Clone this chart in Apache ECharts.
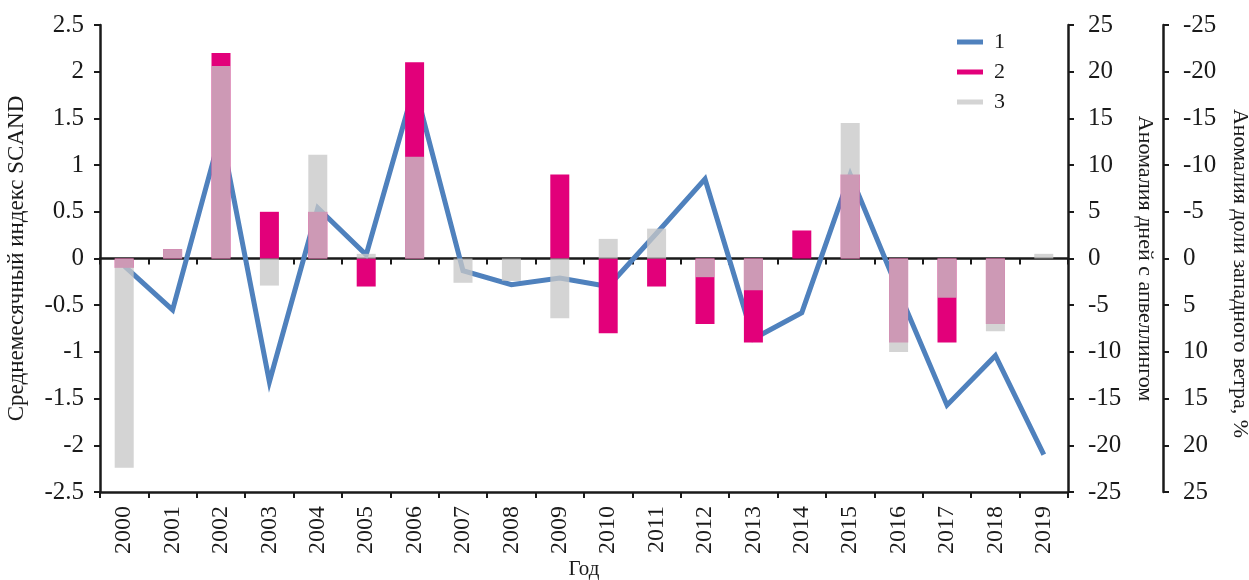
<!DOCTYPE html>
<html>
<head>
<meta charset="utf-8">
<script src="https://cdn.jsdelivr.net/npm/echarts@6/dist/echarts.min.js"></script>
<style>
  html, body { margin: 0; padding: 0; background: #fff; }
  #chart { width: 1249px; height: 580px; }
</style>
</head>
<body>
<div id="chart"></div>
<script>
// годы
const years = ['2000','2001','2002','2003','2004','2005','2006','2007','2008','2009',
               '2010','2011','2012','2013','2014','2015','2016','2017','2018','2019'];
// 1 - индекс SCAND
const scand = [-0.08, -0.55, 1.35, -1.32, 0.54, 0.04, 1.85, -0.13, -0.28, -0.21,
               -0.3, 0.27, 0.85, -0.86, -0.58, 0.9, -0.35, -1.57, -1.04, -2.1];
// 2 - аномалия дней с апвеллингом
const upwelling = [-1, 1, 22, 5, 5, -3, 21, 0, 0, 9,
                   -8, -3, -7, -9, 3, 9, -9, -9, -7, 0];
// 3 - аномалия доли западного ветра, %
const westWind = [22.4, -1, -20.6, 2.9, -11.1, -0.5, -10.9, 2.6, 2.4, 6.4,
                  -2.1, -3.2, 2.0, 3.4, 0, -14.5, 10, 4.2, 7.8, -0.5];

const FONT = 'Liberation Serif';
const INK = '#1a1a1a';

const chart = echarts.init(document.getElementById('chart'));

// общие настройки оси
function axisLine() {
	return { show: true, onZero: false, lineStyle: { color: INK, width: 2.5 } };
}
function axisTick(inside) {
	return { show: true, inside: !!inside, length: 6, lineStyle: { color: INK, width: 2 } };
}
function tickLabel(size) {
	return { color: INK, fontFamily: FONT, fontSize: size };
}

const option = {
	animation: false,
	backgroundColor: '#fff',
	grid: { left: 100, right: 181, top: 25, bottom: 88, containLabel: false, outerBoundsMode: 'none' },
	legend: {
		orient: 'vertical',
		left: 952,
		top: 26,
		itemWidth: 26,
		itemHeight: 5,
		itemGap: 8,
		icon: 'rect',
		textStyle: { color: INK, fontFamily: FONT, fontSize: 22, padding: [0, 0, 0, 6] },
		data: ['1', '2', '3']
	},
	xAxis: [
		{
			type: 'category',
			data: years,
			position: 'bottom',
			axisLine: axisLine(),
			axisTick: axisTick(false),
			axisLabel: Object.assign(tickLabel(24), { rotate: 90, margin: 14, interval: 0 }),
			splitLine: { show: false },
			name: 'Год',
			nameLocation: 'middle',
			nameGap: 67,
			nameMoveOverlap: false,
			nameTextStyle: { color: INK, fontFamily: FONT, fontSize: 21 }
		},
		{
			// линия нуля
			type: 'category',
			data: years,
			position: 'top',
			axisLine: { show: true, onZero: true, onZeroAxisIndex: 0, lineStyle: { color: INK, width: 2.5 } },
			axisTick: axisTick(true),
			axisLabel: { show: false },
			splitLine: { show: false }
		}
	],
	yAxis: [
		{
			type: 'value',
			min: -2.5, max: 2.5, interval: 0.5,
			position: 'left',
			axisLine: axisLine(),
			axisTick: axisTick(false),
			axisLabel: Object.assign(tickLabel(25), { margin: 16 }),
			splitLine: { show: false },
			name: 'Среднемесячный индекс SCAND',
			nameLocation: 'middle',
			nameRotate: 90,
			nameGap: 72,
			nameTextStyle: { color: INK, fontFamily: FONT, fontSize: 23 }
		},
		{
			type: 'value',
			min: -25, max: 25, interval: 5,
			position: 'right',
			axisLine: axisLine(),
			axisTick: axisTick(false),
			axisLabel: Object.assign(tickLabel(25), { margin: 20 }),
			splitLine: { show: false },
			name: 'Аномалия дней с апвеллингом',
			nameLocation: 'middle',
			nameRotate: -90,
			nameGap: 66,
			nameTextStyle: { color: INK, fontFamily: FONT, fontSize: 22 }
		},
		{
			type: 'value',
			min: -25, max: 25, interval: 5,
			inverse: true,
			position: 'right',
			offset: 95,
			axisLine: axisLine(),
			axisTick: axisTick(false),
			axisLabel: Object.assign(tickLabel(25), { margin: 20 }),
			splitLine: { show: false },
			name: 'Аномалия доли западного ветра, %',
			nameLocation: 'middle',
			nameRotate: -90,
			nameGap: 66,
			nameTextStyle: { color: INK, fontFamily: FONT, fontSize: 22, padding: [0, 0, 0, 30] }
		}
	],
	series: [
		{
			name: '1',
			type: 'line',
			xAxisIndex: 0,
			yAxisIndex: 0,
			data: scand,
			showSymbol: false,
			z: 1,
			color: '#4f81bd',
			lineStyle: { color: '#4f81bd', width: 5, join: 'miter' }
		},
		{
			name: '2',
			type: 'bar',
			xAxisIndex: 0,
			yAxisIndex: 1,
			data: upwelling,
			barWidth: 19,
			z: 2,
			itemStyle: { color: '#e2007a' }
		},
		{
			name: '3',
			type: 'bar',
			xAxisIndex: 0,
			yAxisIndex: 2,
			data: westWind,
			barWidth: 19,
			barGap: '-100%',
			z: 3,
			itemStyle: { color: 'rgba(199,199,199,0.77)' }
		}
	]
};

chart.setOption(option);
window.onresize = chart.resize;
</script>
</body>
</html>
